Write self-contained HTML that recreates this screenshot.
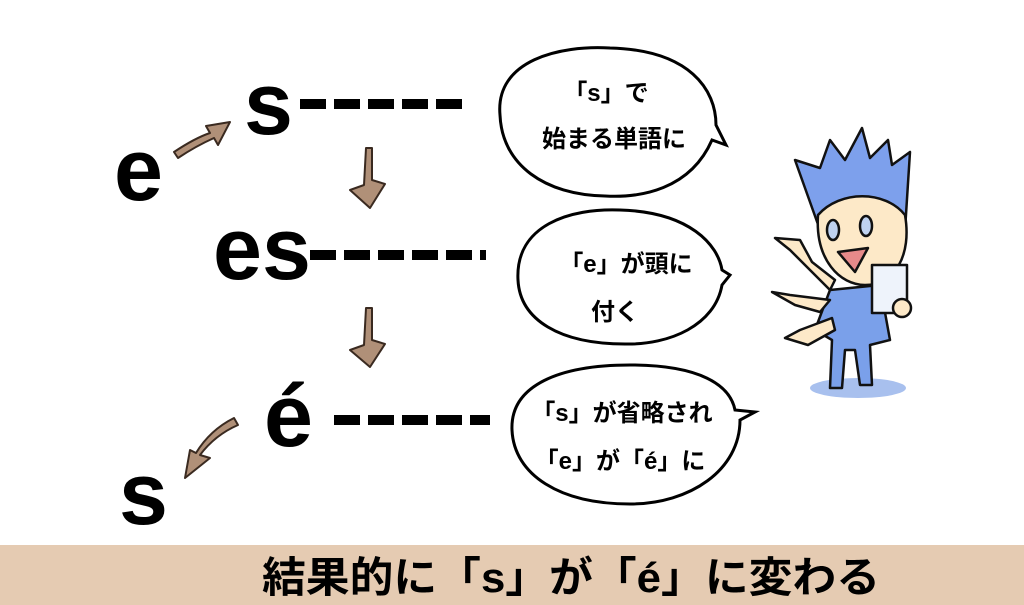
<!DOCTYPE html>
<html><head><meta charset="utf-8"><style>
html,body{margin:0;padding:0;background:#fff;}
svg{display:block;}
</style></head><body>
<svg width="1024" height="605" viewBox="0 0 1024 605" xmlns="http://www.w3.org/2000/svg">
<rect x="0" y="545" width="1024" height="60" fill="#e5cbb2"/>
<text x="262" y="592" font-family="Liberation Sans, Noto Sans CJK JP, sans-serif" font-weight="bold" font-size="42" textLength="618" lengthAdjust="spacingAndGlyphs">結果的に「s」が「é」に変わる</text>

<g font-family="Liberation Sans, sans-serif" font-weight="bold" fill="#000">
<text x="114" y="200" font-size="88">e</text>
<text x="244" y="134" font-size="88">s</text>
<text x="213" y="279" font-size="88">es</text>
<text x="264" y="446" font-size="88">é</text>
<text x="119" y="524" font-size="88">s</text>
</g>
<g stroke="#000" stroke-width="10" stroke-dasharray="26,8">
<line x1="300" y1="104" x2="466" y2="104"/>
<line x1="310" y1="255" x2="486" y2="255"/>
<line x1="334" y1="420" x2="490" y2="420"/>
</g>

<g fill="#b09078" stroke="#3a2a20" stroke-width="2" stroke-linejoin="round">
<path d="M316 148 L322 148 L322 180 L335 184 L320 208 L300 190 L314 185 Z" transform="translate(50,0)"/>
<path d="M316 308 L322 308 L322 340 L335 344 L320 367 L300 350 L314 345 Z" transform="translate(50,0)"/>
<path d="M174 152 Q195 138 210 133 L206 126 L230 122 L218 145 L214 138 Q196 146 178 158 Z"/>
<path d="M238 425 Q215 435 200 455 L210 458 L185 478 L190 450 L196 453 Q210 430 234 418 Z"/>
</g>

<g fill="#fff" stroke="#000" stroke-width="3">
<path d="M500 115 C495 60 560 45 610 48 C690 50 716 90 716 125 L726 145 L712 140 C690 190 640 198 605 196 C545 195 502 165 500 115 Z"/>
<path d="M518 280 C515 225 570 208 620 210 C690 212 718 245 722 270 L730 275 L722 285 C715 325 670 345 625 344 C560 344 520 320 518 280 Z"/>
<path d="M512 430 C510 385 560 365 630 365 C700 365 730 385 735 410 L755 412 L740 420 C740 470 690 504 630 504 C560 504 514 475 512 430 Z"/>
</g>
<g font-family="Liberation Sans, Noto Sans CJK JP, sans-serif" font-weight="bold" font-size="24" fill="#000" text-anchor="middle">
<text x="606" y="101">「s」で</text>
<text x="614" y="147">始まる単語に</text>
<text x="626" y="272">「e」が頭に</text>
<text x="615" y="320">付く</text>
<text x="622" y="421">「s」が省略され</text>
<text x="620" y="469">「e」が「é」に</text>
</g>

<g stroke="#111" stroke-width="2.5" stroke-linejoin="round">
<ellipse cx="858" cy="388" rx="48" ry="10" fill="#a8c0ee" stroke="none"/>
<path d="M795 160 L820 168 L830 140 L845 160 L862 128 L870 158 L888 140 L892 165 L910 152 L905 230 L820 230 Z" fill="#7da0ec"/>
<path d="M818 215 C815 260 840 285 865 285 C895 285 912 255 905 215 C885 190 840 190 818 215 Z" fill="#fde9c8"/>
<ellipse cx="833" cy="230" rx="6" ry="10" fill="#bfd2f0"/>
<ellipse cx="866" cy="226" rx="6" ry="10" fill="#bfd2f0"/>
<path d="M838 252 L868 248 L855 272 Z" fill="#e78a8a"/>
<path d="M830 290 L880 285 L890 340 L870 345 L872 385 L860 385 L855 350 L845 350 L842 388 L830 388 L832 340 L815 330 Z" fill="#7aa0ea"/>
<rect x="872" y="265" width="35" height="48" fill="#eef3fb"/>
<circle cx="902" cy="308" r="9" fill="#fde9c8"/>
<path d="M830 290 L790 250 L775 238 L800 240 L812 262 L835 280 Z" fill="#fde9c8"/>
<path d="M830 300 L790 295 L772 292 L795 305 L820 312 Z" fill="#fde9c8"/>
<path d="M832 318 L800 330 L785 338 L808 345 L835 330 Z" fill="#fde9c8"/>
</g>
</svg>
</body></html>
